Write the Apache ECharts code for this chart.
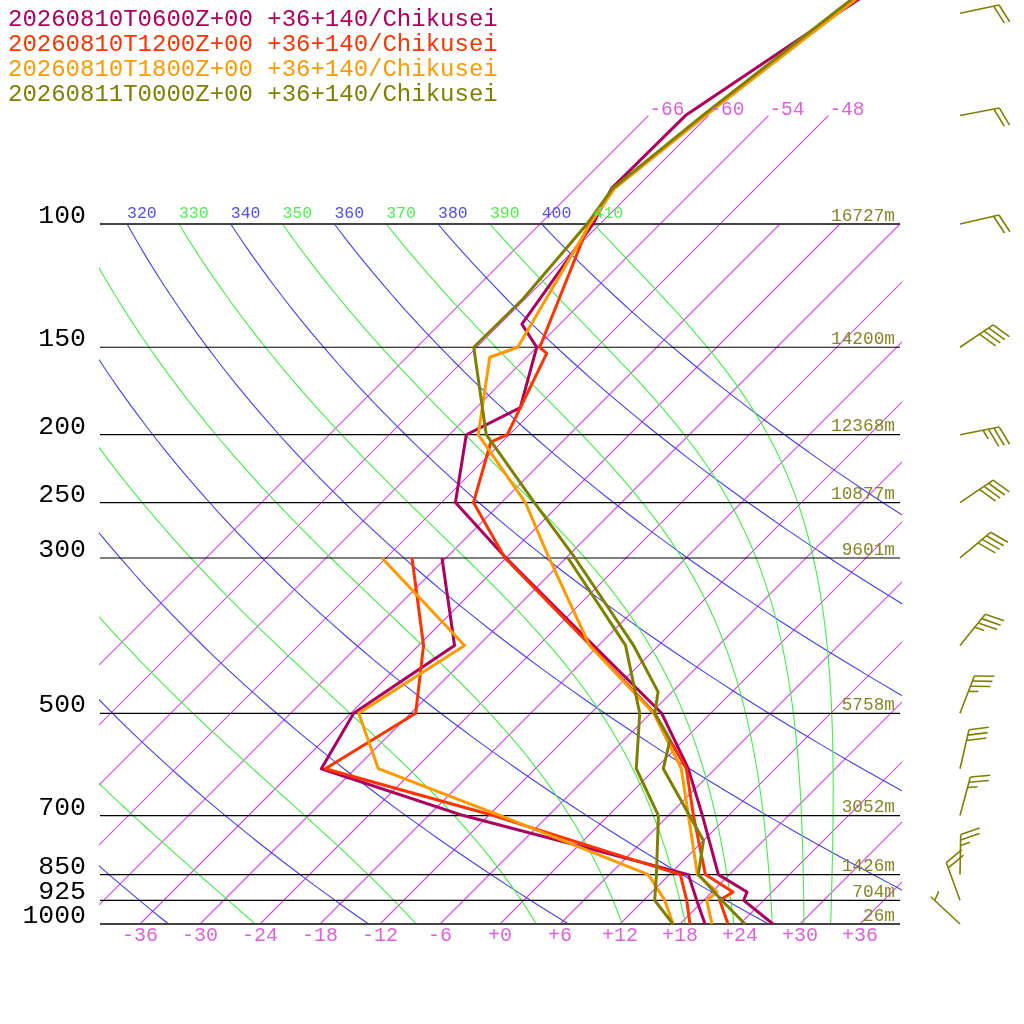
<!DOCTYPE html>
<html><head><meta charset="utf-8">
<script src="https://cdn.jsdelivr.net/npm/echarts@6/dist/echarts.min.js"></script>
<style>html,body{margin:0;padding:0;background:#fff}#chart{width:1024px;height:1024px}</style>
</head><body><div id="chart"></div>
<script>
// ================= DATA =================
const soundingNames = [
  '20260810T0600Z+00 +36+140/Chikusei',
  '20260810T1200Z+00 +36+140/Chikusei',
  '20260810T1800Z+00 +36+140/Chikusei',
  '20260811T0000Z+00 +36+140/Chikusei'
];
const soundingColors = ['#b0005f', '#ff3300', '#ff9900', '#808000'];

// [pressure hPa, temperature degC]
const temp0600 = [[1000,27.3],[925,22.0],[900,21.5],[850,16.9],[700,9.4],[600,3.3],[500,-4.9],[400,-18.5],[300,-36.0],[250,-46.6],[200,-52.3],[183,-49.6],[150,-54.0],[139,-57.8],[100,-60.7],[89,-62.4],[70,-62.3],[50,-57.3],[30,-49.5]];
const dew0600  = [[1000,20.5],[925,17.3],[850,13.9],[700,-14.5],[600,-33.4],[500,-35.7],[400,-32.4],[300,-42.4]];
const temp1200 = [[1000,22.8],[925,19.6],[900,20.1],[850,15.6],[700,8.5],[600,3.1],[500,-5.6],[400,-18.8],[300,-36.1],[250,-44.8],[205,-49.1],[200,-48.2],[153,-52.4],[150,-53.7],[100,-61.1],[89,-62.2],[70,-60.4],[50,-57.5],[30,-53.0]];
const dew1200  = [[1000,19.0],[925,16.3],[850,13.1],[700,-11.5],[600,-33.0],[500,-29.5],[400,-35.5],[300,-45.4]];
const temp1800 = [[1000,21.2],[925,18.3],[900,18.5],[850,14.8],[700,8.0],[600,2.6],[500,-5.7],[400,-18.9],[300,-31.7],[250,-39.6],[200,-51.1],[155,-57.7],[150,-55.9],[100,-61.0],[89,-62.1],[70,-60.3],[50,-57.3],[30,-52.7]];
const dew1800  = [[1000,17.3],[925,14.1],[850,9.9],[700,-10.8],[600,-27.7],[500,-35.2],[400,-31.4],[300,-48.4]];
const temp0000 = [[1000,24.5],[925,19.8],[850,14.9],[760,12.0],[600,0.8],[546,-1.4],[500,-5.6],[466,-7.4],[400,-14.5],[300,-29.1],[250,-38.7],[200,-50.3],[150,-60.3],[128,-60.2],[100,-61.3],[89,-62.3],[70,-60.6],[50,-57.7],[30,-53.2]];
const dew0000  = [[1000,17.3],[925,13.1],[850,10.7],[700,5.0],[600,-1.9],[500,-7.1],[400,-15.3],[300,-29.8]];

// wind (last sounding)
const windLevels = [1000, 925, 850, 700, 600, 500, 400, 300, 250, 200, 150, 100, 70, 50];
const windDir    = [313, 340, 1, 15, 13, 21, 39, 50, 56, 79, 56, 77, 79, 78];
const windSpeed  = [5, 20, 25, 25, 30, 35, 35, 40, 40, 35, 40, 20, 20, 20];

// axes / reference lines
const pressureLevels = [1000, 925, 850, 700, 500, 300, 250, 200, 150, 100];
const heightLabels   = ['26m', '704m', '1426m', '3052m', '5758m', '9601m', '10877m', '12368m', '14200m', '16727m'];
const tempTicks = [-36, -30, -24, -18, -12, -6, 0, 6, 12, 18, 24, 30, 36];
const isotherms = [-66, -60, -54, -48, -42, -36, -30, -24, -18, -12, -6, 0, 6, 12, 18, 24, 30, 36];
const isothermsLabelled = [-66, -60, -54, -48];
const dryThetas = [240, 260, 280, 300, 320, 340, 360, 380, 400];
const moistThetas = [250, 270, 290, 310, 330, 350, 370, 390, 410];

// ================= HELPERS =================
const FONT = '"Liberation Mono", "DejaVu Sans Mono", monospace';
const SKEW = 30.4;                 // degC of x-shift per ln(1000/p)
const KAPPA = 287.04 / 1005.7;
const X_MIN = -40, X_MAX = 40;
const Y_MIN = 1.68, Y_MAX = 3;     // log10(p)
const ISOTHERM_STROKE = 'rgb(214, 72, 232)';
const DRY_COLOR = 'rgb(64, 64, 255)', MOIST_COLOR = 'rgb(64, 240, 64)', TICK_COLOR = '#e060e0';
const OLIVE = '#808000';

function skewX(p, T) { return T + SKEW * Math.log(1000 / p); }
function pt(p, T) { return [skewX(p, T), Math.log10(p)]; }

function thinLine(data, color, z, w) {
  return { type: 'line', data, symbol: 'none', showSymbol: false, silent: true, animation: false,
    clip: true, z: z || 1, color: color, itemStyle: { color: color }, lineStyle: { color: color, width: w || 1 } };
}

// saturation mixing ratio, pseudo-adiabatic lapse
function satMix(p, Tk) { const c = Tk - 273.15; const es = 6.112 * Math.exp(17.67 * c / (c + 243.5)); return 0.622 * es / (p - es); }
function dTdp(p, Tk) {
  const Rd = 287.04, cp = 1005.7, Lv = 2.501e6, eps = 0.622;
  const rs = satMix(p, Tk);
  return (Rd * Tk + Lv * rs) / (p * (cp + Lv * Lv * rs * eps / (Rd * Tk * Tk)));
}

const bg = [];
isotherms.forEach(T => {
  const top = isothermsLabelled.includes(T) ? 70 : 100;
  bg.push(thinLine([pt(1000, T), pt(top, T)], ISOTHERM_STROKE, 1, 1.1));
});
dryThetas.forEach(th => {
  const d = [];
  for (let i = 0; i <= 90; i++) { const p = 1000 * Math.pow(0.1, i / 90); d.push(pt(p, th * Math.pow(p / 1000, KAPPA) - 273.15)); }
  bg.push(thinLine(d, DRY_COLOR, 1, 1.1));
});
moistThetas.forEach(th => {
  let p = 100, T = th * Math.pow(0.1, KAPPA);
  const d = [pt(p, T - 273.15)];
  const h = 2;
  while (p < 1000 - 1e-9) {
    const k1 = dTdp(p, T), k2 = dTdp(p + h / 2, T + h / 2 * k1), k3 = dTdp(p + h / 2, T + h / 2 * k2), k4 = dTdp(p + h, T + h * k3);
    T += h / 6 * (k1 + 2 * k2 + 2 * k3 + k4); p += h;
    d.push(pt(p, T - 273.15));
  }
  bg.push(thinLine(d, MOIST_COLOR, 1, 1.1));
});

// labels for adiabats at 100 hPa and isotherms at 70 hPa
const textSpecs = [];
dryThetas.forEach(th => { const x = skewX(100, th * Math.pow(0.1, KAPPA) - 273.15); if (x > -38) textSpecs.push({ x, lp: 2, text: String(th), color: '#5050f0', fs: 16.5, dx: 0, dy: -10 }); });
moistThetas.forEach(th => { const x = skewX(100, th * Math.pow(0.1, KAPPA) - 273.15); if (x > -38) textSpecs.push({ x, lp: 2, text: String(th), color: '#50f050', fs: 16.5, dx: 0, dy: -10 }); });
isothermsLabelled.forEach(T => { textSpecs.push({ x: skewX(70, T), lp: Math.log10(70), text: String(T), color: TICK_COLOR, fs: 19.5, dx: 1, dy: -6 }); });

const textSeries = {
  type: 'custom', coordinateSystem: 'cartesian2d', silent: true, animation: false, clip: false, z: 6,
  data: textSpecs.map(s => [s.x, s.lp]),
  renderItem: (params, api) => {
    const s = textSpecs[params.dataIndex];
    const c = api.coord([api.value(0), api.value(1)]);
    return { type: 'text', x: c[0] + s.dx, y: c[1] + s.dy,
      style: { text: s.text, fill: s.color, fontSize: s.fs, fontFamily: FONT, align: 'left', verticalAlign: 'middle' } };
  }
};

// isobars with their pressure labels (left) and standard heights (right)
const isobarSeries = {
  type: 'custom', coordinateSystem: 'cartesian2d', silent: true, animation: false, clip: false, z: 3,
  data: pressureLevels.map(p => [0, Math.log10(p)]),
  renderItem: (params, api) => {
    const i = params.dataIndex;
    const v = api.value(1);
    const a = api.coord([X_MIN, v]), b = api.coord([X_MAX, v]);
    const edge = (pressureLevels[i] === 1000 || pressureLevels[i] === 100);
    return { type: 'group', children: [
      { type: 'line', shape: { x1: a[0], y1: a[1], x2: b[0], y2: b[1] }, style: { stroke: edge ? '#444' : '#000', lineWidth: edge ? 2 : 1.2 } },
      { type: 'text', x: a[0] - 14, y: a[1] - 8, style: { text: String(pressureLevels[i]), fill: '#000', fontSize: 26.5, fontFamily: FONT, align: 'right', verticalAlign: 'middle' } },
      { type: 'text', x: b[0] - 5, y: b[1] - 8, style: { text: heightLabels[i], fill: '#868626', fontSize: 17.8, fontFamily: FONT, align: 'right', verticalAlign: 'middle' } }
    ] };
  }
};

const BARB_X = 960, STAFF = 40, BARB_LEN = 20, BARB_SP = 5.5, BARB_ANG = 70 * Math.PI / 180;
const windSeries = {
  type: 'custom', coordinateSystem: 'cartesian2d', silent: true, animation: false, clip: false, z: 5,
  data: windLevels.map(p => [0, Math.log10(p)]),
  renderItem: (params, api) => {
    const i = params.dataIndex;
    const y0 = api.coord([0, api.value(1)])[1], x0 = BARB_X;
    const d = windDir[i] * Math.PI / 180;
    const ux = Math.sin(d), uy = -Math.cos(d);
    const tx = x0 + ux * STAFF, ty = y0 + uy * STAFF;
    const vx = ux * Math.cos(BARB_ANG) - uy * Math.sin(BARB_ANG), vy = ux * Math.sin(BARB_ANG) + uy * Math.cos(BARB_ANG);
    const st = { stroke: OLIVE, lineWidth: 1.6 };
    const ch = [{ type: 'line', shape: { x1: x0, y1: y0, x2: tx, y2: ty }, style: st }];
    const spd = Math.round(windSpeed[i] / 5) * 5;
    const full = Math.floor(spd / 10), half = spd % 10 >= 5 ? 1 : 0;
    let k = (full === 0 && half) ? 1 : 0;
    for (let f = 0; f < full; f++, k++) {
      const bx = tx - ux * k * BARB_SP, by = ty - uy * k * BARB_SP;
      ch.push({ type: 'line', shape: { x1: bx, y1: by, x2: bx + vx * BARB_LEN, y2: by + vy * BARB_LEN }, style: st });
    }
    if (half) {
      const bx = tx - ux * k * BARB_SP, by = ty - uy * k * BARB_SP;
      ch.push({ type: 'line', shape: { x1: bx, y1: by, x2: bx + vx * BARB_LEN / 2, y2: by + vy * BARB_LEN / 2 }, style: st });
    }
    return { type: 'group', children: ch };
  }
};

const soundings = [[temp0600, dew0600], [temp1200, dew1200], [temp1800, dew1800], [temp0000, dew0000]];
const soundingSeries = [];
soundings.forEach((pair, si) => {
  pair.forEach(arr => {
    soundingSeries.push({ type: 'line', name: soundingNames[si], data: arr.map(r => pt(r[0], r[1])),
      symbol: 'none', showSymbol: false, animation: false, clip: true, z: 4 + si * 0.01,
      color: soundingColors[si],
      lineStyle: { color: soundingColors[si], width: 3, join: 'round' } });
  });
});

const chart = echarts.init(document.getElementById('chart'), null, { renderer: 'canvas' });
chart.setOption({
  backgroundColor: '#fff',
  animation: false,
  grid: { left: 100, right: 124, top: 0, bottom: 100, containLabel: false },
  xAxis: { type: 'value', min: X_MIN, max: X_MAX,
    axisLine: { show: false }, axisTick: { show: false }, splitLine: { show: false },
    axisLabel: { customValues: tempTicks, color: TICK_COLOR, fontSize: 20, fontFamily: FONT, margin: 2, lineHeight: 20,
      hideOverlap: false, showMinLabel: true, showMaxLabel: true,
      formatter: v => (v >= 0 ? '+' : '') + v } },
  yAxis: { type: 'value', inverse: true, min: Y_MIN, max: Y_MAX,
    axisLine: { show: false }, axisTick: { show: false }, splitLine: { show: false },
    axisLabel: { show: false } },
  graphic: soundingNames.map((n, i) => ({ type: 'text', left: 8, top: 8 + i * 25,
    style: { text: n, fill: soundingColors[i], fontSize: 24, fontFamily: FONT } })),
  series: [...bg, isobarSeries, ...soundingSeries, windSeries, textSeries]
});
</script></body></html>
